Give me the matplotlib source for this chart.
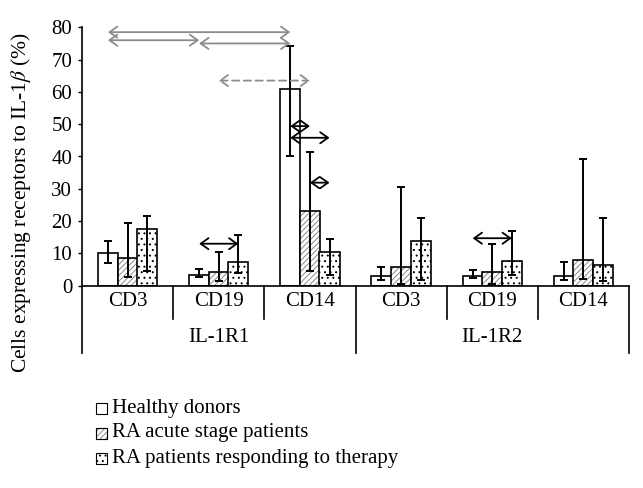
import matplotlib
matplotlib.use('Agg')
import matplotlib.pyplot as plt
from matplotlib.patches import Rectangle
from matplotlib.lines import Line2D
import numpy as np

plt.rcParams['font.family'] = ['Liberation Serif', 'DejaVu Serif']
plt.rcParams['mathtext.fontset'] = 'stix'
plt.rcParams['font.size'] = 15
plt.rcParams['hatch.linewidth'] = 0.7

# data
categories = ['CD3', 'CD19', 'CD14', 'CD3', 'CD19', 'CD14']
groups = ['IL-1R1', 'IL-1R2']
series_names = ['Healthy donors', 'RA acute stage patients', 'RA patients responding to therapy']

healthy = [10.2, 3.4, 60.9, 3.0, 3.0, 3.0]
healthy_hi = [13.8, 5.2, 74.3, 5.8, 4.9, 7.3]
healthy_lo = [7.1, 2.8, 40.2, 1.8, 2.3, 1.8]

acute = [8.5, 4.1, 23.2, 5.8, 4.1, 7.9]
acute_hi = [19.5, 10.3, 41.5, 30.7, 12.9, 39.1]
acute_lo = [2.8, 1.5, 4.6, 0.5, 0.5, 2.0]

therapy = [17.5, 7.3, 10.4, 13.9, 7.6, 6.4]
therapy_hi = [21.7, 15.8, 14.4, 20.9, 17.0, 20.9]
therapy_lo = [4.6, 3.8, 3.3, 1.8, 3.2, 1.5]

# significance arrows: (category, series from, category, series to, y, style)
arrows = [
    (0, 0, 2, 0, 78.5, 'gray'),
    (0, 0, 1, 0, 76.0, 'gray'),
    (1, 0, 2, 0, 75.0, 'gray'),
    (1, 1, 2, 1, 63.5, 'dashed'),
    (2, 0, 2, 1, 49.4, 'black'),
    (2, 0, 2, 2, 45.8, 'black'),
    (2, 1, 2, 2, 31.9, 'black'),
    (1, 0, 1, 2, 13.0, 'black'),
    (4, 0, 4, 2, 14.7, 'black'),
]

fig = plt.figure(figsize=(6.43, 4.88), dpi=100)
ax = fig.add_axes([82 / 643, 1 - 285.7 / 488, (629 - 82) / 643, 258.4 / 488])

x = np.arange(len(categories))
w = 0.22
offsets = [-0.215, 0.0, 0.215]

# healthy: plain white
ax.bar(x + offsets[0], healthy, w, facecolor='white', edgecolor='black', linewidth=1.2, zorder=2)
# acute: thin gray diagonal lines
ax.bar(x + offsets[1], acute, w, facecolor='white', edgecolor='#8a8a8a', hatch='//////',
       linewidth=0, zorder=2)
ax.bar(x + offsets[1], acute, w, fill=False, edgecolor='black', linewidth=1.2, zorder=2)
# therapy: dots
ax.bar(x + offsets[2], therapy, w, facecolor='white', edgecolor='black', hatch='...',
       linewidth=1.2, zorder=2)

for off, vals, hi, lo in [(offsets[0], healthy, healthy_hi, healthy_lo),
                          (offsets[1], acute, acute_hi, acute_lo),
                          (offsets[2], therapy, therapy_hi, therapy_lo)]:
    vals = np.array(vals)
    yerr = [vals - np.array(lo), np.array(hi) - vals]
    ax.errorbar(x + off, vals, yerr=yerr, fmt='none', ecolor='black', elinewidth=1.4,
                capsize=3.2, capthick=1.4, zorder=3)

for c1, s1, c2, s2, y, style in arrows:
    x1 = c1 + offsets[s1]
    x2 = c2 + offsets[s2]
    if style == 'black':
        col, ls = 'black', '-'
    elif style == 'gray':
        col, ls = '#8c8c8c', '-'
    else:
        col, ls = '#8c8c8c', (0, (4, 2.5))
    ax.annotate('', xy=(x2, y), xytext=(x1, y),
                arrowprops=dict(arrowstyle='<->,head_length=0.28,head_width=0.2',
                                color=col, lw=1.3, linestyle=ls,
                                shrinkA=0, shrinkB=0, mutation_scale=20),
                zorder=4)

ax.set_xlim(-0.5, len(categories) - 0.5)
ax.set_ylim(0, 80)
ax.set_yticks(range(0, 81, 10))
ax.set_xticks([])
ax.tick_params(axis='y', direction='out', length=3, width=1, pad=4, labelsize=15)
for s in ['top', 'right']:
    ax.spines[s].set_visible(False)
ax.spines['left'].set_linewidth(1.2)
ax.spines['bottom'].set_linewidth(1.2)

# category axis: labels and separators below the axis
for i, cat in enumerate(categories):
    ax.text(i, -0.063, cat, transform=ax.get_xaxis_transform(), ha='center', va='center',
            fontsize=15)
for i in [0.5, 1.5, 3.5, 4.5]:
    ax.add_line(Line2D([i, i], [0, -0.129], transform=ax.get_xaxis_transform(),
                       color='black', lw=1.2, clip_on=False))
for i in [-0.5, 2.5, 5.5]:
    ax.add_line(Line2D([i, i], [0, -0.262], transform=ax.get_xaxis_transform(),
                       color='black', lw=1.2, clip_on=False))
for g, name in enumerate(groups):
    ax.text(g * 3 + 1, -0.199, name, transform=ax.get_xaxis_transform(), ha='center',
            va='center', fontsize=15)

fig.text(21 / 643, 1 - 203 / 488, r'Cells expressing receptors to IL-1$\beta$ (%)',
         rotation=90, ha='center', va='center', fontsize=15.5)

# legend drawn by hand
hatches = [None, '//////', '...']
edge = ['black', '#8a8a8a', 'black']
rows = [408, 433, 458]
for name, h, ec, yy in zip(series_names, hatches, edge, rows):
    r = Rectangle((96 / 643, 1 - (yy + 5.5) / 488), 11 / 643, 11 / 488,
                  transform=fig.transFigure, facecolor='white', edgecolor=ec,
                  hatch=h, linewidth=0.8)
    fig.add_artist(r)
    if h == '//////':
        fig.add_artist(Rectangle((96 / 643, 1 - (yy + 5.5) / 488), 11 / 643, 11 / 488,
                                 transform=fig.transFigure, fill=False,
                                 edgecolor='black', linewidth=0.8))
    fig.text(112 / 643, 1 - yy / 488, name, ha='left', va='center', fontsize=15)

fig.savefig('out.png', dpi=100)
